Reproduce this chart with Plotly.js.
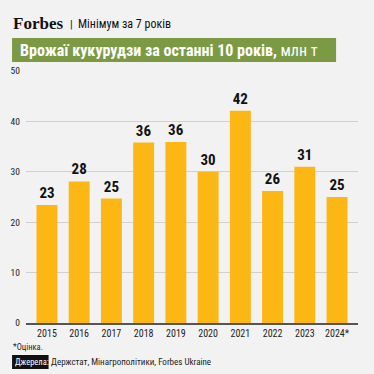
<!DOCTYPE html>
<html><head><meta charset="utf-8">
<script src="https://cdn.plot.ly/plotly-3.0.1.min.js"></script>
<style>html,body{margin:0;padding:0;background:#f2f2f2;}#chart{width:374px;height:374px;}</style>
</head><body><div id="chart"></div>
<script>
const years = ['2015','2016','2017','2018','2019','2020','2021','2022','2023','2024*'];
const harvest = [23.4, 28.1, 24.7, 35.8, 35.9, 30.0, 42.1, 26.2, 31.0, 25.0];
const yTicks = [0,10,20,30,40,50];

const F = '"Liberation Sans Narrow", "Roboto Condensed", "DejaVu Sans Condensed", Roboto, sans-serif';

const trace = {
  type:'bar', x: years, y: harvest,
  marker:{color:'#fdb714'},
  texttemplate:'%{y:.0f}', textposition:'outside', cliponaxis:false,
  textfont:{family:F, size:15, color:'#111', weight:700},
  hoverinfo:'skip'
};

const layout = {
  width:374, height:374,
  paper_bgcolor:'#f2f2f2', plot_bgcolor:'#f2f2f2',
  margin:{l:26, r:16, t:71, b:51},
  bargap:0.35,
  showlegend:false,
  font:{family:F, color:'#222'},
  xaxis:{type:'category', range:[-0.65, 9.65], showgrid:false, ticks:'', tickfont:{family:F, size:10, color:'#222'},
         showline:true, linecolor:'#555', linewidth:2, fixedrange:true},
  yaxis:{range:[0,50], tickvals:yTicks, showgrid:true, gridcolor:'#d0d0d0', gridwidth:1,
         zeroline:false, tickfont:{family:F, size:9.5, color:'#222'}, ticklabelstandoff:5, fixedrange:true},
  shapes:[
    {type:'rect', xref:'paper', yref:'paper', x0:-0.042, x1:0.934, y0:1.036, y1:1.131, fillcolor:'#7b9a43', line:{width:0}, layer:'below'},
    {type:'rect', xref:'paper', yref:'paper', x0:-0.042, x1:0.068, y0:-0.183, y1:-0.127, fillcolor:'#111', line:{width:0}}
  ],
  annotations:[
    {xref:'paper', yref:'paper', x:-0.024, y:1.083, xanchor:'left', yanchor:'middle', showarrow:false,
     text:'<b>Врожаї кукурудзи за останні 10 років,</b> млн т', font:{family:F, size:16, color:'#fff'}},
    {xref:'paper', yref:'paper', x:-0.045, y:1.19, xanchor:'left', yanchor:'middle', showarrow:false,
     text:'<b>Forbes</b>', font:{family:'"Liberation Serif", "DejaVu Serif", serif', size:17, color:'#111'}},
    {xref:'paper', yref:'paper', x:0.126, y:1.186, xanchor:'left', yanchor:'middle', showarrow:false,
     text:'|', font:{family:F, size:11, color:'#111'}},
    {xref:'paper', yref:'paper', x:0.152, y:1.186, xanchor:'left', yanchor:'middle', showarrow:false,
     text:'Мінімум за 7 років', font:{family:F, size:12, color:'#111'}},
    {xref:'paper', yref:'paper', x:-0.044, y:-0.095, xanchor:'left', yanchor:'middle', showarrow:false,
     text:'*Оцінка.', font:{family:F, size:8.5, color:'#222'}},
    {xref:'paper', yref:'paper', x:-0.038, y:-0.155, xanchor:'left', yanchor:'middle', showarrow:false,
     text:'Джерела:', font:{family:F, size:8.5, color:'#fff'}},
    {xref:'paper', yref:'paper', x:0.07, y:-0.155, xanchor:'left', yanchor:'middle', showarrow:false,
     text:'Держстат, Мінагрополітики, Forbes Ukraine', font:{family:F, size:9, color:'#222'}}
  ]
};

Plotly.newPlot('chart', [trace], layout, {displayModeBar:false, staticPlot:true});
</script></body></html>
